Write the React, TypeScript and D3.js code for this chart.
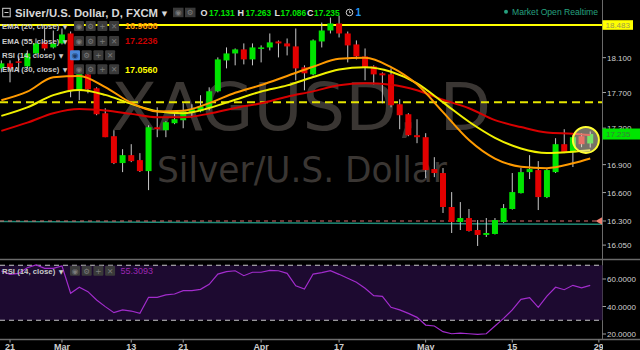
import React from 'react';
import * as d3 from 'd3';

// ---------- data ----------
const dates = [
  '2017-02-20','2017-02-21','2017-02-22','2017-02-23','2017-02-24','2017-02-27','2017-02-28',
  '2017-03-01','2017-03-02','2017-03-03','2017-03-06','2017-03-07','2017-03-08','2017-03-09','2017-03-10',
  '2017-03-13','2017-03-14','2017-03-15','2017-03-16','2017-03-17','2017-03-20','2017-03-21','2017-03-22',
  '2017-03-23','2017-03-24','2017-03-27','2017-03-28','2017-03-29','2017-03-30','2017-03-31',
  '2017-04-03','2017-04-04','2017-04-05','2017-04-06','2017-04-07','2017-04-10','2017-04-11','2017-04-12',
  '2017-04-13','2017-04-17','2017-04-18','2017-04-19','2017-04-20','2017-04-21','2017-04-24','2017-04-25',
  '2017-04-26','2017-04-27','2017-04-28',
  '2017-05-01','2017-05-02','2017-05-03','2017-05-04','2017-05-05','2017-05-08','2017-05-09','2017-05-10',
  '2017-05-11','2017-05-12','2017-05-15','2017-05-16','2017-05-17','2017-05-18','2017-05-19','2017-05-22',
  '2017-05-23','2017-05-24','2017-05-25','2017-05-26',
];
const openP = [17.976,18.034,18.057,17.999,18.149,18.278,18.219,18.266,18.383,17.725,17.907,17.748,17.466,17.211,16.917,17.003,16.949,16.830,17.310,17.277,17.355,17.388,17.477,17.488,17.533,17.714,18.068,18.149,18.196,18.080,18.213,18.219,18.289,18.266,18.231,17.988,17.907,18.289,18.418,18.501,18.383,18.254,18.114,17.999,17.919,17.907,17.567,17.455,17.222,17.200,16.852,16.809,16.447,16.289,16.331,16.206,16.155,16.165,16.289,16.426,16.594,16.819,16.841,16.552,16.819,17.123,17.035,17.211,17.131];
const highP = [18.068,18.068,18.114,18.184,18.324,18.442,18.418,18.442,18.406,17.930,17.919,17.759,17.522,17.277,17.068,17.123,17.025,17.332,17.533,17.377,17.466,17.578,17.567,17.669,17.759,18.103,18.219,18.207,18.266,18.266,18.243,18.383,18.300,18.324,18.442,18.011,18.313,18.512,18.571,18.595,18.406,18.301,18.207,18.011,17.930,17.976,17.623,17.466,17.399,17.244,16.981,16.863,16.605,16.499,16.426,16.310,16.331,16.331,16.478,16.809,16.863,17.003,16.938,16.852,17.189,17.288,17.222,17.244,17.263];
const lowP = [17.930,17.816,17.930,17.976,18.126,18.184,18.207,18.254,17.646,17.612,17.691,17.444,17.200,16.906,16.819,16.927,16.820,16.626,17.200,17.200,17.344,17.299,17.421,17.477,17.499,17.702,17.976,18.011,18.022,18.011,18.045,18.184,18.103,18.126,17.839,17.725,17.896,18.219,18.383,18.336,18.045,18.080,17.839,17.793,17.578,17.533,17.288,17.211,17.134,16.755,16.765,16.384,16.175,16.206,16.190,16.041,16.134,16.160,16.280,16.420,16.590,16.744,16.415,16.541,16.809,17.025,16.874,17.090,17.086];
const closeP = [18.034,17.976,18.045,18.149,18.266,18.207,18.266,18.371,17.725,17.919,17.736,17.455,17.200,16.917,17.003,16.938,16.830,17.310,17.288,17.366,17.399,17.488,17.510,17.544,17.714,18.080,18.149,18.196,18.080,18.219,18.219,18.278,18.266,18.231,17.976,17.919,18.301,18.418,18.501,18.383,18.243,18.114,17.988,17.907,17.896,17.556,17.444,17.222,17.200,16.841,16.809,16.447,16.289,16.331,16.196,16.155,16.175,16.310,16.436,16.605,16.819,16.852,16.552,16.841,17.123,17.035,17.200,17.123,17.235];

const emaSampleIdx = [0,3,6,9,12,15,18,21,24,27,30,33,36,39,42,45,48,51,54,57,60,63,66,68];
const ema20 = [17.612,17.709,17.873,17.889,17.762,17.582,17.486,17.494,17.580,17.697,17.785,17.889,17.994,18.088,18.098,17.991,17.793,17.479,17.169,16.966,16.878,16.862,16.914,16.966];
const ema30 = [17.437,17.532,17.670,17.729,17.673,17.571,17.489,17.466,17.524,17.618,17.712,17.781,17.877,17.962,17.990,17.938,17.804,17.588,17.371,17.193,17.076,17.027,17.041,17.056];
const ema55 = [17.270,17.361,17.467,17.514,17.497,17.459,17.421,17.421,17.462,17.526,17.578,17.652,17.713,17.783,17.804,17.788,17.725,17.618,17.522,17.389,17.312,17.252,17.239,17.224];

const rsi14 = [65.8,63.4,64.1,68.2,70.2,67.8,67.8,69.5,49.6,54.0,50.8,44.7,39.9,35.5,37.5,36.7,35.0,46.7,46.7,48.4,49.1,51.5,51.5,52.5,56.1,63.6,65.3,66.0,62.4,64.9,64.9,66.3,66.0,64.1,55.1,52.7,63.6,64.6,66.0,63.4,60.5,57.6,53.2,47.9,47.4,39.4,37.5,35.0,32.1,26.5,25.8,21.7,20.2,20.7,20.2,19.8,20.2,25.8,31.4,37.5,45.2,46.4,39.4,47.6,54.0,52.2,55.4,53.5,55.3093];

const priceTicks = [18.1, 17.7, 17.3, 16.9, 16.6, 16.3, 16.05];
const rsiTicks = [60, 40, 20];
const rsiBand = [70, 30];
const xTickDates = ['2017-02-21','2017-03-01','2017-03-13','2017-03-21','2017-04-03','2017-04-17','2017-05-01','2017-05-15','2017-05-29'];
const xTickLabels = ['21','Mar','13','21','Apr','17','May','15','29'];

const resistanceLevel = 18.483;
const dashedLevel = 17.59;
const supportLevel = 16.3;
const trendIdx = [-0.155, 69.36];
const trendPrice = [16.296, 16.265];
const lastOHLC = { o: '17.131', h: '17.263', l: '17.086', c: '17.235' };
const legendValues = { ema20: '16.9656', ema55: '17.2236', ema30: '17.0560', rsi: '55.3093' };

// ---------- layout ----------
const W = 640, H = 350;
const AXIS_X = 602.5;
const MAIN_BOTTOM = 259;
const RSI_TOP = 260;
const RSI_BOTTOM = 339.5;
const X0 = 1.34, STEP = 8.66;
const UP = '#00e400', DOWN = '#e40000';
const FONT = 'Liberation Sans, Arial, sans-serif';

function IconBoxes({ x, y, first }: { x: number; y: number; first?: boolean }) {
  const glyphs = ['◉', '⚙', '+', '✕'];
  return (
    <g>
      {glyphs.map((g, k) => (
        <g key={k}>
          <rect x={x + k * 11.7} y={y - 5} width={10} height={10} rx={1}
            fill={first && k === 0 ? '#4a86d8' : '#3a3a3a'} />
          <text x={x + k * 11.7 + 5} y={y + 3} fontSize={7.5} textAnchor="middle"
            fill={first && k === 0 ? '#1a3a6a' : '#7a7a7a'} fontFamily="DejaVu Sans">{g}</text>
        </g>
      ))}
    </g>
  );
}

export default function App() {
  const x = d3.scaleLinear().domain([0, dates.length]).range([X0, X0 + STEP * dates.length]);
  const y = d3.scaleLog().domain([16.3, 18.483]).range([221, 25]);
  const yr = d3.scaleLinear().domain([20, 70]).range([334, 265.25]);

  const emaLine = (vals: number[]) =>
    d3.line<number>().x((_, i) => x(emaSampleIdx[i])).y((d) => y(d)).curve(d3.curveMonotoneX)(vals) || '';
  const rsiLine = d3.line<number>().x((_, i) => x(i)).y((d) => yr(d))(rsi14) || '';

  const idxOf = (d: string) => { const k = dates.indexOf(d); return k >= 0 ? k : dates.length; };

  const legendRows = [
    { label: 'EMA (20, close)', value: legendValues.ema20, color: '#ff9800', yy: 26 },
    { label: 'EMA (55, close)', value: legendValues.ema55, color: '#c80000', yy: 41 },
    { label: 'RSI (14, close)', value: null, color: '', yy: 55.3 },
    { label: 'EMA (30, close)', value: legendValues.ema30, color: '#ffff00', yy: 69.3 },
  ];

  const ohlcParts = [
    { k: 'O', kx: 200.5, v: lastOHLC.o, vx: 209 },
    { k: 'H', kx: 237.5, v: lastOHLC.h, vx: 245.5 },
    { k: 'L', kx: 274.5, v: lastOHLC.l, vx: 280.5 },
    { k: 'C', kx: 307, v: lastOHLC.c, vx: 314 },
  ];

  return (
    <svg width={W} height={H} style={{ position: 'absolute', left: 0, top: 0, display: 'block', background: '#000' }}>
      <defs>
        <clipPath id="main"><rect x={0} y={0} width={AXIS_X} height={MAIN_BOTTOM} /></clipPath>
        <clipPath id="rsi"><rect x={0} y={RSI_TOP} width={AXIS_X} height={RSI_BOTTOM - RSI_TOP} /></clipPath>
        <clipPath id="xlab"><rect x={0} y={RSI_BOTTOM} width={AXIS_X + 0.5} height={20} /></clipPath>
      </defs>
      <rect x={0} y={0} width={W} height={H} fill="#000" />

      {/* watermark */}
      <g fontFamily="DejaVu Sans" fill="#3a3633" textAnchor="middle">
        <text x={301} y={130} fontSize={66} textLength={380} lengthAdjust="spacingAndGlyphs">XAGUSD, D</text>
        <text x={302} y={181.5} fontSize={35} textLength={290} lengthAdjust="spacingAndGlyphs">Silver/U.S. Dollar</text>
      </g>

      <g clipPath="url(#main)">
        {/* level lines */}
        <line x1={0} x2={AXIS_X} y1={y(resistanceLevel)} y2={y(resistanceLevel)} stroke="#ffff00" strokeWidth={2} />
        <line x1={0} x2={AXIS_X} y1={y(dashedLevel)} y2={y(dashedLevel)} stroke="#e6e600" strokeWidth={2} strokeDasharray="8,5" />
        <line x1={x(trendIdx[0])} x2={x(trendIdx[1])} y1={y(trendPrice[0])} y2={y(trendPrice[1])} stroke="#1f8a76" strokeWidth={1.5} />
        <line x1={0} x2={AXIS_X - 6} y1={y(supportLevel)} y2={y(supportLevel)} stroke="#e07070" strokeWidth={1} strokeDasharray="4,4" />

        {/* candles */}
        {dates.map((d, i) => {
          const o = openP[i], c = closeP[i];
          const up = c >= o;
          const top = y(Math.max(o, c)), bot = y(Math.min(o, c));
          return (
            <g key={d}>
              <line x1={x(i)} x2={x(i)} y1={y(highP[i])} y2={y(lowP[i])} stroke="#c8c8c8" strokeWidth={1} />
              <rect x={x(i) - 3} y={top} width={6} height={Math.max(1.5, bot - top)} fill={up ? UP : DOWN} />
            </g>
          );
        })}

        {/* EMAs */}
        <path d={emaLine(ema55)} fill="none" stroke="#d80000" strokeWidth={2} />
        <path d={emaLine(ema30)} fill="none" stroke="#f0f000" strokeWidth={2} />
        <path d={emaLine(ema20)} fill="none" stroke="#ff9a00" strokeWidth={2} />

        {/* highlight circle */}
        <circle cx={x(67.5)} cy={y(17.17)} r={13} fill="rgba(235,228,205,0.5)" stroke="#ffff33" strokeWidth={2} />
      </g>

      {/* support marker */}
      <path d={`M${AXIS_X},${y(supportLevel) - 4} L${AXIS_X - 7},${y(supportLevel)} L${AXIS_X},${y(supportLevel) + 4} Z`} fill="#f08070" />

      {/* title */}
      <g fontFamily={FONT}>
        <rect x={2.7} y={8.3} width={7.5} height={8.5} fill="none" stroke="#cfcfcf" strokeWidth={1} />
        <line x1={4.5} x2={8.5} y1={12.5} y2={12.5} stroke="#cfcfcf" strokeWidth={1} />
        <text x={15} y={16.7} fontSize={11} fontWeight="bold" fill="#d8d8d8" textLength={143} lengthAdjust="spacingAndGlyphs">Silver/U.S. Dollar, D, FXCM</text>
        <text x={164.5} y={15.5} fontSize={7} fill="#d8d8d8" textAnchor="middle" fontFamily="DejaVu Sans">▼</text>
        <rect x={173} y={7.7} width={10.5} height={9.5} fill="#3a3a3a" />
        <text x={178.2} y={15.2} fontSize={7.5} fill="#7a7a7a" textAnchor="middle" fontFamily="DejaVu Sans">◉</text>
        <rect x={185} y={7.7} width={10.5} height={9.5} fill="#3a3a3a" />
        <text x={190.2} y={15.2} fontSize={7.5} fill="#7a7a7a" textAnchor="middle" fontFamily="DejaVu Sans">⚙</text>
        <g fontWeight="bold">
          {ohlcParts.map((p) => (
            <g key={p.k}>
              <text x={p.kx} y={16} fontSize={9} fill="#e0e0e0">{p.k}</text>
              <text x={p.vx} y={16} fontSize={8.4} fill="#00e600">{p.v}</text>
            </g>
          ))}
        </g>
        <circle cx={349.5} cy={12.5} r={3.3} fill="none" stroke="#cfcfcf" strokeWidth={1} />
        <line x1={349.5} x2={349.5} y1={10.5} y2={12.7} stroke="#cfcfcf" strokeWidth={0.8} />
        <line x1={349.5} x2={351} y1={12.7} y2={12.7} stroke="#cfcfcf" strokeWidth={0.8} />
        <text x={355.5} y={16.2} fontSize={10} fontWeight="bold" fill="#2196f3">1</text>
        <circle cx={506} cy={11.8} r={2} fill="#26a17f" />
        <text x={512} y={15} fontSize={9.5} fill="#26a17f" textLength={86} lengthAdjust="spacingAndGlyphs">Market Open Realtime</text>
      </g>

      {/* legend */}
      <g fontFamily={FONT}>
        {legendRows.map((r, k) => (
          <g key={k}>
            <text x={2} y={r.yy + 3} fontSize={7.8} fontWeight="bold" fill="#c9c9c9">{r.label}</text>
            <text x={r.value ? 65 : 61} y={r.yy + 2.8} fontSize={6} fill="#c9c9c9" textAnchor="middle" fontFamily="DejaVu Sans">▼</text>
            <IconBoxes x={r.value ? 74 : 70} y={r.yy} first={!r.value} />
            {r.value && (
              <text x={125} y={r.yy + 3.3} fontSize={9} fontWeight="bold" fill={r.color}>{r.value}</text>
            )}
          </g>
        ))}
      </g>

      {/* price axis */}
      <line x1={AXIS_X} x2={AXIS_X} y1={0} y2={RSI_BOTTOM} stroke="#6a6a6a" strokeWidth={1} />
      <g fontFamily={FONT} fontSize={8} fill="#d0d0d0">
        {priceTicks.map((p) => (
          <g key={p}>
            <line x1={AXIS_X} x2={AXIS_X + 3.5} y1={y(p)} y2={y(p)} stroke="#a0a0a0" />
            <text x={607} y={y(p) + 3}>{p.toFixed(3)}</text>
          </g>
        ))}
      </g>
      <rect x={AXIS_X} y={y(resistanceLevel) - 4.8} width={30.5} height={9.6} fill="#ffff00" />
      <text x={605.5} y={y(resistanceLevel) + 3} fontSize={8} fill="#9a9a50" fontFamily={FONT}>{resistanceLevel.toFixed(3)}</text>
      <rect x={AXIS_X} y={y(+lastOHLC.c) - 5.5} width={37.5} height={11} fill="#00e600" />
      <text x={606} y={y(+lastOHLC.c) + 3} fontSize={8} fill="#3d7a3d" fontFamily={FONT}>{lastOHLC.c}</text>

      {/* panel divider */}
      <line x1={0} x2={W} y1={MAIN_BOTTOM + 0.5} y2={MAIN_BOTTOM + 0.5} stroke="#6a6a6a" strokeWidth={1.5} />

      {/* RSI panel */}
      <rect x={0} y={yr(rsiBand[0])} width={AXIS_X} height={yr(rsiBand[1]) - yr(rsiBand[0])} fill="#1d0a30" />
      {rsiBand.map((b) => (
        <line key={b} x1={0} x2={AXIS_X} y1={yr(b)} y2={yr(b)} stroke="#c8c8c8" strokeWidth={1} strokeDasharray="5,4" />
      ))}
      <g clipPath="url(#rsi)">
        <path d={rsiLine} fill="none" stroke="#a22ccc" strokeWidth={1.2} />
      </g>
      <g fontFamily={FONT}>
        <text x={2} y={273.7} fontSize={7.8} fontWeight="bold" fill="#c9c9c9">RSI (14, close)</text>
        <text x={61} y={273.5} fontSize={6} fill="#c9c9c9" textAnchor="middle" fontFamily="DejaVu Sans">▼</text>
        <IconBoxes x={70} y={270.7} />
        <text x={120.5} y={274} fontSize={9} fill="#9c27b0">{legendValues.rsi}</text>
      </g>
      <g fontFamily={FONT} fontSize={8} fill="#d0d0d0">
        {rsiTicks.map((v) => (
          <g key={v}>
            <line x1={AXIS_X} x2={AXIS_X + 3.5} y1={yr(v)} y2={yr(v)} stroke="#a0a0a0" />
            <text x={607} y={yr(v) + 3}>{v.toFixed(4)}</text>
          </g>
        ))}
      </g>

      {/* time axis */}
      <line x1={0} x2={W} y1={RSI_BOTTOM} y2={RSI_BOTTOM} stroke="#6a6a6a" strokeWidth={1.5} />
      <g fontFamily={FONT} fontSize={9} fontWeight="bold" fill="#cfcfcf" clipPath="url(#xlab)">
        {xTickDates.map((d, k) => (
          <g key={d}>
            <line x1={x(idxOf(d))} x2={x(idxOf(d))} y1={RSI_BOTTOM} y2={RSI_BOTTOM + 3} stroke="#a0a0a0" />
            <text x={x(idxOf(d))} y={349.5} textAnchor="middle">{xTickLabels[k]}</text>
          </g>
        ))}
      </g>
    </svg>
  );
}
